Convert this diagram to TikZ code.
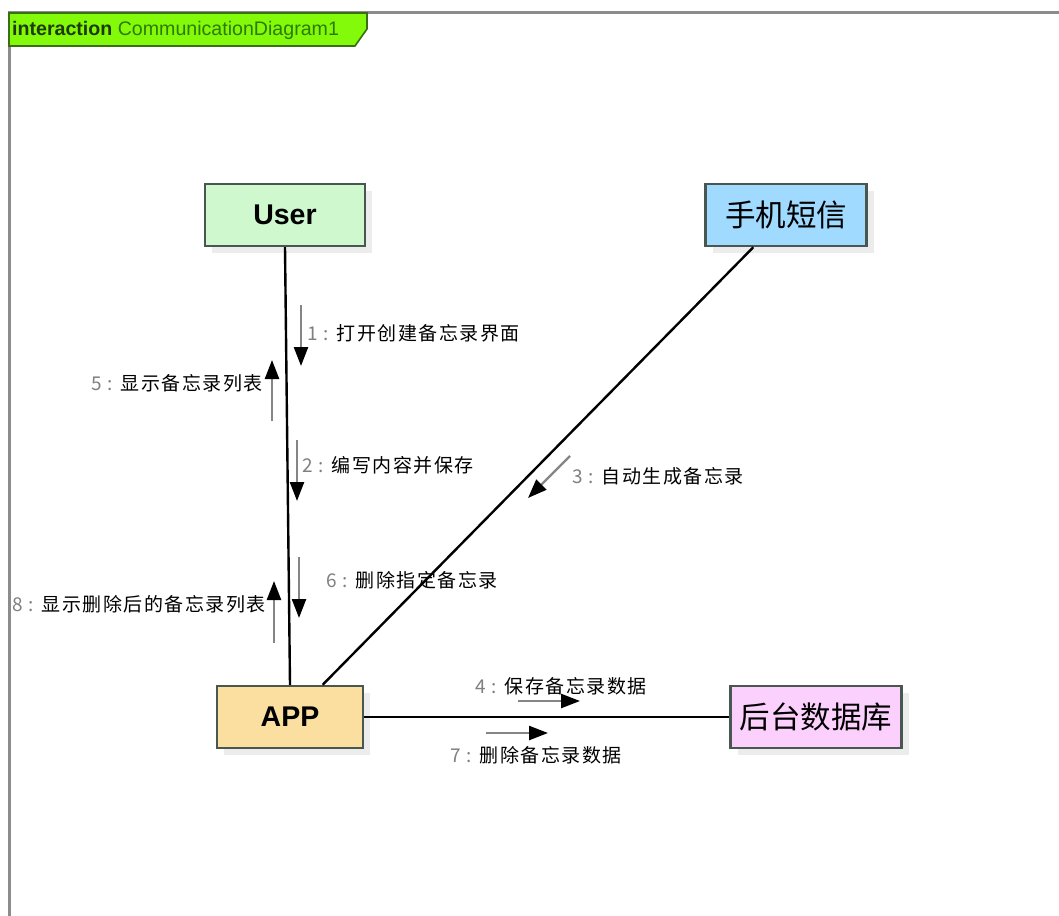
\documentclass[tikz,border=0pt]{standalone}
\usepackage{fontspec}
\setmainfont{Liberation Sans}
\newfontfamily\cjk{Noto Sans CJK SC}
\newfontfamily\cjklbl[LetterSpace=8]{Noto Sans CJK SC}
\usetikzlibrary{arrows.meta,calc,shadows}
\definecolor{framegray}{HTML}{8C8C8C}
\definecolor{tabgreen}{HTML}{82FA0A}
\definecolor{tabline}{HTML}{3A6E12}
\definecolor{tabdark}{HTML}{1E3A05}
\definecolor{tabtext}{HTML}{2F7A00}
\definecolor{boxline}{HTML}{4A5650}
\definecolor{userfill}{HTML}{CFF8CF}
\definecolor{smsfill}{HTML}{A0DAFF}
\definecolor{appfill}{HTML}{FADFA0}
\definecolor{dbfill}{HTML}{FCD0FC}
\definecolor{shadowgray}{HTML}{ECECEC}
\definecolor{shaftgray}{HTML}{858585}
\definecolor{numgray}{HTML}{808080}
\begin{document}
\begin{tikzpicture}[x=1pt,y=-1pt,
  obj/.style={draw=boxline, line width=2.4pt, minimum height=62pt, inner sep=0pt,
    drop shadow={shadow xshift=7pt, shadow yshift=-7pt, fill=shadowgray, opacity=1}},
  latinobj/.style={obj, font=\fontsize{28.5}{30}\selectfont\bfseries},
  cjkobj/.style={obj, font=\fontsize{30.5}{32}\cjk},
  link/.style={draw=black, line width=2.4pt},
  msg/.style={draw=shaftgray, line width=2.4pt, -{Triangle[length=19pt,width=14pt,color=black]}},
  lbl/.style={font=\fontsize{19}{21}\cjklbl, inner sep=0pt, text=black}
]
\useasboundingbox (0,0) rectangle (1059,915);
\fill[white] (0,0) rectangle (1059,915);

% frame
\coordinate (ftr) at (1070,13);
\coordinate (ftl) at (9,13);
\coordinate (fbl) at (9,930);
\draw[framegray, line width=3pt] (ftr) -- (ftl) -- (fbl);

% header tab
\draw[fill=tabgreen, draw=tabline, line width=1.6pt]
  (9,13) -- (367,13) -- (367,29) -- (355,46) -- (9,46) -- cycle;
\node[anchor=west, inner sep=0pt, font=\fontsize{19.6}{21}\selectfont] (hdr) at (12,30)
  {\textcolor{tabdark}{\bfseries interaction} \textcolor{tabtext}{CommunicationDiagram1}};

% objects
\node[latinobj, fill=userfill, minimum width=160pt] (user) at (285,215) {User};
\node[cjkobj, fill=smsfill, minimum width=161pt] (sms) at (786,215) {手机短信};
\node[latinobj, fill=appfill, minimum width=146pt] (app) at (290,717) {APP};
\node[cjkobj, fill=dbfill, minimum width=171pt] (db) at (816,717) {后台数据库};

% links
\draw[link] (user.south) -- (app.north);
\draw[link] ($(sms.south west)!0.30!(sms.south east)$) -- ($(app.north west)!0.72!(app.north east)$);
\draw[link] (app.east) -- (db.west);

% message arrows
\coordinate (m1s) at (301,305); \coordinate (m1e) at (301,366);
\coordinate (m5s) at (272,421); \coordinate (m5e) at (272,360);
\coordinate (m2s) at (297,440); \coordinate (m2e) at (297,501);
\coordinate (m3s) at (570,456); \coordinate (m3e) at (528,498);
\coordinate (m6s) at (299,557); \coordinate (m6e) at (299,618);
\coordinate (m8s) at (274,643); \coordinate (m8e) at (274,581);
\coordinate (m4s) at (518,701); \coordinate (m4e) at (580,701);
\coordinate (m7s) at (486,733); \coordinate (m7e) at (548,733);
\draw[msg] (m1s) -- (m1e);
\draw[msg] (m5s) -- (m5e);
\draw[msg] (m2s) -- (m2e);
\draw[msg] (m3s) -- (m3e);
\draw[msg] (m6s) -- (m6e);
\draw[msg] (m8s) -- (m8e);
\draw[msg] (m4s) -- (m4e);
\draw[msg] (m7s) -- (m7e);

% labels
\node[lbl, anchor=west] (l1) at (307,333) {\textcolor{numgray}{1 :} 打开创建备忘录界面};
\node[lbl, anchor=east] (l5) at (263,383) {\textcolor{numgray}{5 :} 显示备忘录列表};
\node[lbl, anchor=west] (l2) at (302,465) {\textcolor{numgray}{2 :} 编写内容并保存};
\node[lbl, anchor=west] (l3) at (572,476) {\textcolor{numgray}{3 :} 自动生成备忘录};
\node[lbl, anchor=west] (l6) at (326,580) {\textcolor{numgray}{6 :} 删除指定备忘录};
\node[lbl, anchor=east] (l8) at (266,604) {\textcolor{numgray}{8 :} 显示删除后的备忘录列表};
\node[lbl] (l4) at (561,686) {\textcolor{numgray}{4 :} 保存备忘录数据};
\node[lbl] (l7) at (536,755) {\textcolor{numgray}{7 :} 删除备忘录数据};
\end{tikzpicture}
\end{document}
